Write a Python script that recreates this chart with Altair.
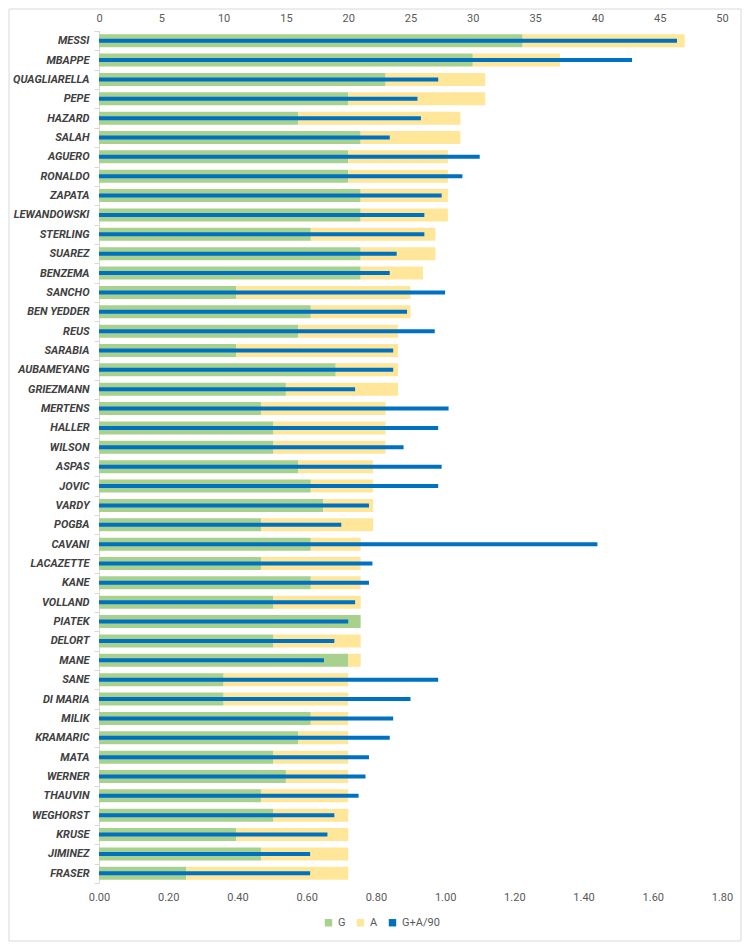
import altair as alt
import pandas as pd

players = ["MESSI", "MBAPPE", "QUAGLIARELLA", "PEPE", "HAZARD", "SALAH", "AGUERO", "RONALDO",
           "ZAPATA", "LEWANDOWSKI", "STERLING", "SUAREZ", "BENZEMA", "SANCHO", "BEN YEDDER", "REUS",
           "SARABIA", "AUBAMEYANG", "GRIEZMANN", "MERTENS", "HALLER", "WILSON", "ASPAS", "JOVIC",
           "VARDY", "POGBA", "CAVANI", "LACAZETTE", "KANE", "VOLLAND", "PIATEK", "DELORT", "MANE",
           "SANE", "DI MARIA", "MILIK", "KRAMARIC", "MATA", "WERNER", "THAUVIN", "WEGHORST",
           "KRUSE", "JIMINEZ", "FRASER"]
goals = [34, 30, 23, 20, 16, 21, 20, 20, 21, 21,
         17, 21, 21, 11, 17, 16, 11, 19, 15, 13,
         14, 14, 16, 17, 18, 13, 17, 13, 17, 14,
         21, 14, 20, 10, 10, 17, 16, 14, 15, 13,
         14, 11, 13, 7]
assists = [13, 7, 8, 11, 13, 8, 8, 8, 7, 7,
           10, 6, 5, 14, 8, 8, 13, 5, 9, 10,
           9, 9, 6, 5, 4, 9, 4, 8, 4, 7,
           0, 7, 1, 10, 10, 3, 4, 6, 5, 7,
           6, 9, 7, 13]
ga_per90 = [1.67, 1.54, 0.98, 0.92, 0.93, 0.84, 1.10, 1.05, 0.99, 0.94,
            0.94, 0.86, 0.84, 1.00, 0.89, 0.97, 0.85, 0.85, 0.74, 1.01,
            0.98, 0.88, 0.99, 0.98, 0.78, 0.70, 1.44, 0.79, 0.78, 0.74,
            0.72, 0.68, 0.65, 0.98, 0.90, 0.85, 0.84, 0.78, 0.77, 0.75,
            0.68, 0.66, 0.61, 0.61]

series_names = ["G", "A", "G+A/90"]
series_colors = ["#A9D18E", "#FFE699", "#0070C0"]
top_ticks = [0, 5, 10, 15, 20, 25, 30, 35, 40, 45, 50]
bottom_ticks = [0.0, 0.2, 0.4, 0.6, 0.8, 1.0, 1.2, 1.4, 1.6, 1.8]

rows = []
for i, p in enumerate(players):
    rows.append({"player": p, "series": "G", "value": goals[i], "ord": 0})
    rows.append({"player": p, "series": "A", "value": assists[i], "ord": 1})
df_stack = pd.DataFrame(rows)
df_rate = pd.DataFrame({"player": players, "series": "G+A/90", "value": ga_per90})

color_scale = alt.Scale(domain=series_names, range=series_colors)
font = "Roboto"

y_enc = alt.Y("player:N", sort=players, title=None,
              scale=alt.Scale(paddingInner=0, paddingOuter=0),
              axis=alt.Axis(domainColor="#D9D9D9", tickColor="#D9D9D9", tickSize=5,
                            tickBand="extent", labelFont=font, labelFontStyle="italic",
                            labelFontWeight="bold", labelColor="#404040", labelFontSize=11,
                            labelPadding=5))

# chart-area frame (Excel style border)
frame = alt.Chart(pd.DataFrame({"f": [0]})).mark_rect(
    filled=False, stroke="#D9D9D9", strokeWidth=1
).encode(x=alt.value(-90), x2=alt.value(642), y=alt.value(-22), y2=alt.value(910))

stack = alt.Chart(df_stack).mark_bar(size=13).encode(
    x=alt.X("value:Q", stack="zero", title=None, scale=alt.Scale(domain=[0, 50]),
            axis=alt.Axis(orient="top", values=top_ticks, grid=False, domain=False, ticks=False,
                          labelFlush=False, labelColor="#595959", labelFontSize=11,
                          labelFont=font, labelPadding=8)),
    y=y_enc,
    color=alt.Color("series:N", scale=color_scale,
                    legend=alt.Legend(title=None, orient="none", direction="horizontal",
                                      legendX=224, legendY=886, symbolType="square",
                                      symbolSize=55, symbolStrokeWidth=0,
                                      labelFontSize=11, labelFont=font, labelColor="#595959",
                                      columnPadding=9, labelOffset=4)),
    order=alt.Order("ord:Q"),
)

rate = alt.Chart(df_rate).mark_bar(size=4).encode(
    x=alt.X("value:Q", title=None, scale=alt.Scale(domain=[0, 1.8]),
            axis=alt.Axis(orient="bottom", values=bottom_ticks, format=".2f", grid=False,
                          domain=False, ticks=False, labelFlush=False, labelColor="#595959",
                          labelFontSize=11, labelFont=font, labelPadding=8)),
    y=y_enc,
    color=alt.Color("series:N", scale=color_scale),
)

chart = alt.layer(frame, stack, rate).resolve_scale(x="independent").properties(
    width=623, height=852,
    autosize=alt.AutoSizeParams(type="none"),
    padding={"left": 91, "top": 23, "right": 20, "bottom": 60},
).configure_view(stroke=None)

chart.save("out.html", embed_options={"renderer": "svg", "actions": False})
